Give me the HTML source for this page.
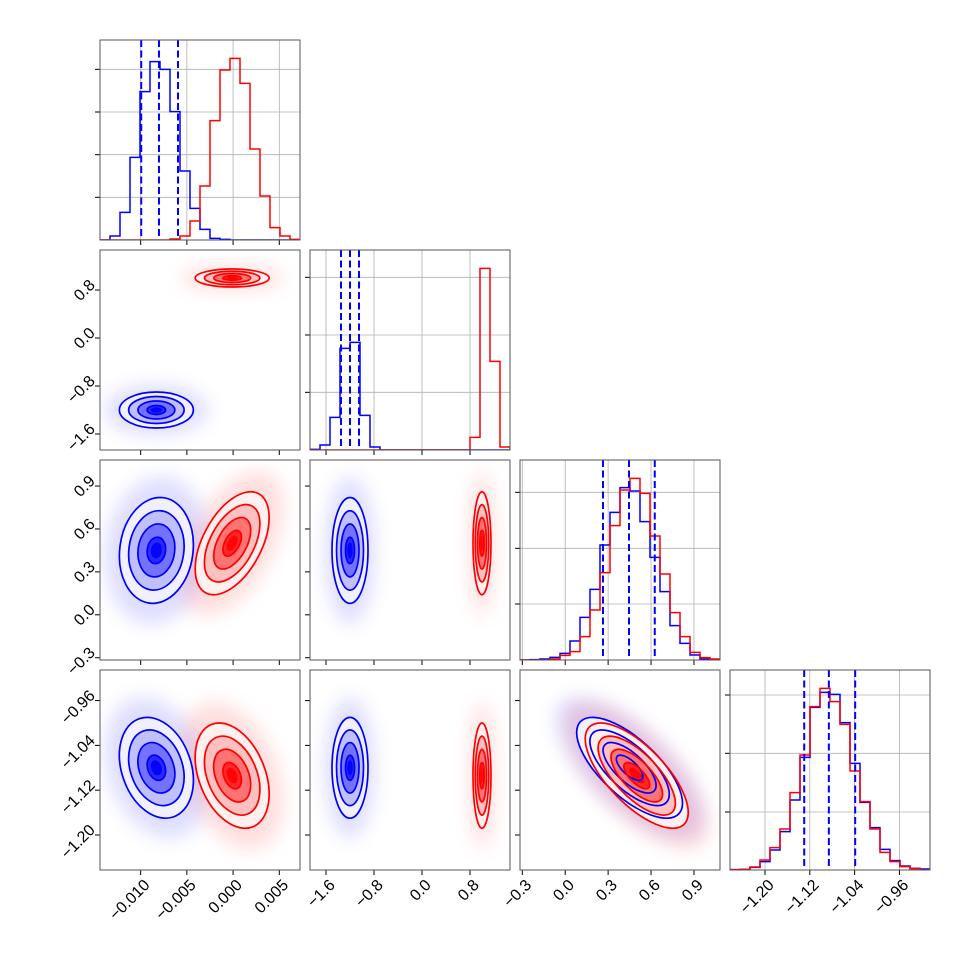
<!DOCTYPE html>
<html><head><meta charset="utf-8"><style>
html,body{margin:0;padding:0;background:#fff}
svg{display:block}
text{font-family:"Liberation Sans",sans-serif;font-size:16px;fill:#000}
</style></head><body>
<svg id="fig" width="970" height="970" viewBox="0 0 970 970" xmlns="http://www.w3.org/2000/svg">
<defs><filter id="haze" x="-50%" y="-50%" width="200%" height="200%"><feGaussianBlur stdDeviation="9"/></filter></defs>
</svg>
<script>
// ---- data ----
const paramLo = [-0.0144, -1.867, -0.316, -1.2625];
const paramHi = [0.00724, 1.467, 1.082, -0.9054];
const ticks0 = [-0.01, -0.005, 0, 0.005];
const ticks1 = [-1.6, -0.8, 0, 0.8];
const ticks2 = [-0.3, 0, 0.3, 0.6, 0.9];
const ticks3 = [-1.2, -1.12, -1.04, -0.96];
const tickLabels0 = ["\u22120.010", "\u22120.005", "0.000", "0.005"];
const tickLabels1 = ["\u22121.6", "\u22120.8", "0.0", "0.8"];
const tickLabels2 = ["\u22120.3", "0.0", "0.3", "0.6", "0.9"];
const tickLabels3 = ["\u22121.20", "\u22121.12", "\u22121.04", "\u22120.96"];
const histMax = 600;
const histTicks0 = [128, 256, 384, 512];
const histTicks1 = [173, 345, 518];
const histTicks2 = [168, 335, 503];
const histTicks3 = [174, 350, 525];
const histBlue0 = [0,12,83,248,445,535,512,385,207,95,32,5,2,0,0,0,0,0,0,0];
const histRed0  = [0,0,0,0,0,0,0,3,12,57,162,358,510,545,470,273,132,37,12,2];
const histBlue1 = [2,15,98,305,323,104,9,0,0,0,0,0,0,0,0,0,0,0,0,0];
const histRed1  = [0,0,0,0,0,0,0,0,0,0,0,0,0,0,0,0,38,545,266,9];
const histBlue2 = [0,1,3,8,20,57,128,212,345,443,517,507,415,308,205,103,50,15,3,0];
const histRed2  = [0,0,0,3,14,25,70,150,262,403,510,545,500,372,258,142,70,23,7,3];
const histBlue3 = [1,2,8,25,60,115,210,338,488,533,527,442,320,203,127,62,28,12,5,3];
const histRed3  = [1,2,9,30,67,123,232,345,490,545,505,437,297,205,123,53,25,10,4,0];
const quantBlue0 = [-0.00994, -0.00802, -0.00596];
const quantBlue1 = [-1.35, -1.2, -1.05];
const quantBlue2 = [0.264, 0.446, 0.626];
const quantBlue3 = [-1.130, -1.086, -1.039];
const meanBlue = [-0.0083, -1.2, 0.45, -1.08];
const meanRed  = [-0.0001, 1.0, 0.5, -1.094];
const sigmaBlue = [0.002, 0.15, 0.185, 0.045];
const sigmaRed  = [0.002, 0.075, 0.18, 0.047];
const pairs = [[0,1],[0,2],[1,2],[0,3],[1,3],[2,3]];
const corrBlue = [0.0, 0.1, 0.0, -0.25, 0.0, -0.7];
const corrRed  = [0.0, 0.5, 0.0, -0.35, 0.0, -0.7];

// ---- layout ----
const svg = document.getElementById('fig');
const NS = 'http://www.w3.org/2000/svg';
const S = 200;
const ticksAll = [ticks0, ticks1, ticks2, ticks3];
const labelsAll = [tickLabels0, tickLabels1, tickLabels2, tickLabels3];
const histTicksAll = [histTicks0, histTicks1, histTicks2, histTicks3];
const histBlueAll = [histBlue0, histBlue1, histBlue2, histBlue3];
const histRedAll = [histRed0, histRed1, histRed2, histRed3];
const quantAll = [quantBlue0, quantBlue1, quantBlue2, quantBlue3];
function px(c){return 100 + 210*c;}
function py(r){return 40 + 210*r;}
function xs(p, c, v){return px(c) + (v - paramLo[p])/(paramHi[p]-paramLo[p])*S;}
function ys(p, r, v){return py(r) + S - (v - paramLo[p])/(paramHi[p]-paramLo[p])*S;}
function hy(r, v){return py(r) + S - v/histMax*S;}
function mk(tag, attrs, parent){
  const e = document.createElementNS(NS, tag);
  for (const k in attrs) e.setAttribute(k, attrs[k]);
  (parent||svg).appendChild(e); return e;
}

function frame(r, c, g){
  const f = mk('rect', {x:px(c), y:py(r), width:S, height:S, fill:'none', stroke:'#555', 'stroke-width':1}, g);
  
  
}
function clip(r, c){
  const cp = mk('clipPath', {id:'clip'+r+c});
  mk('rect', {x:px(c), y:py(r), width:S, height:S}, cp);
  return 'url(#clip'+r+c+')';
}
function xTicks(r, c, p, g, withLabels){
  ticksAll[p].forEach((t, i) => {
    const x = xs(p, c, t);
    mk('line', {x1:x, x2:x, y1:py(r)+S, y2:py(r)+S+5, stroke:'#000', 'stroke-width':1}, g);
    if (withLabels){
      const tx = mk('text', {transform:'translate('+(x+6)+','+(py(r)+S+12)+') rotate(-45)', 'text-anchor':'end', dy:'0.35em'}, g);
      tx.textContent = labelsAll[p][i];
      
      
    }
  });
}
function yTicks(r, c, p, g, withLabels){
  ticksAll[p].forEach((t, i) => {
    const y = ys(p, r, t);
    mk('line', {x1:px(c)-5, x2:px(c), y1:y, y2:y, stroke:'#000', 'stroke-width':1}, g);
    if (withLabels){
      const tx = mk('text', {transform:'translate('+(px(c)-8)+','+(y-8)+') rotate(-45)', 'text-anchor':'end', dy:'0.35em'}, g);
      tx.textContent = labelsAll[p][i];
      
      
    }
  });
}
function histPath(r, c, bins){
  const n = bins.length, w = S/n;
  let d = 'M'+px(c)+','+(py(r)+S);
  bins.forEach((b, i) => {
    const y = hy(r, b);
    d += ' L'+(px(c)+i*w)+','+y+' L'+(px(c)+(i+1)*w)+','+y;
  });
  d += ' L'+(px(c)+S)+','+(py(r)+S);
  return d;
}

// diagonal panels
for (let p = 0; p < 4; p++){
  const g = mk('g', {});
  
  
  const cl = clip(p, p);
  const grid = mk('g', {stroke:'#b0b0b0', 'stroke-width':0.8, 'clip-path':cl}, g);
  ticksAll[p].forEach(t => { const x = xs(p,p,t); mk('line', {x1:x, x2:x, y1:py(p), y2:py(p)+S}, grid); });
  histTicksAll[p].forEach(t => { const y = hy(p,t); mk('line', {x1:px(p), x2:px(p)+S, y1:y, y2:y}, grid); });
  const hb = mk('path', {d:histPath(p,p,histBlueAll[p]), fill:'none', stroke:'#0000ff', 'stroke-width':1.5, 'clip-path':cl}, g);
  
  
  const hr = mk('path', {d:histPath(p,p,histRedAll[p]), fill:'none', stroke:'#ff0000', 'stroke-width':1.5, 'clip-path':cl}, g);
  
  
  quantAll[p].forEach(q => {
    const x = xs(p,p,q);
    const ql = mk('line', {x1:x, x2:x, y1:py(p), y2:py(p)+S, stroke:'#0000ff', 'stroke-width':2, 'stroke-dasharray':'7,3.5'}, g);
    
    
  });
  histTicksAll[p].forEach(t => { const y = hy(p,t); mk('line', {x1:px(p)-5, x2:px(p), y1:y, y2:y, stroke:'#000'}, g); });
  xTicks(p, p, p, g, p === 3);
  frame(p, p, g);
}

// 2D panels
const fillAlpha = [0.06, 0.2, 0.4, 0.65];
const levelK = [2, 1.5, 1, 0.5];
function ellipse(px_, qy, r, c, mean, sig, rho){
  const cx = xs(px_, c, mean[px_]), cy = ys(qy, r, mean[qy]);
  const sx = sig[px_]*S/(paramHi[px_]-paramLo[px_]);
  const sy = sig[qy]*S/(paramHi[qy]-paramLo[qy]);
  const a = sx*sx, d = sy*sy, b = -rho*sx*sy;
  const m = (a+d)/2, s = Math.sqrt(((a-d)/2)**2 + b*b);
  const ang = 0.5*Math.atan2(2*b, a-d)*180/Math.PI;
  return {cx, cy, r1:Math.sqrt(m+s), r2:Math.sqrt(Math.max(m-s, 0.1)), ang};
}
for (let r = 1; r < 4; r++){
  for (let c = 0; c < r; c++){
    const g = mk('g', {});
    
    
    const cl = clip(r, c);
    const inner = mk('g', {'clip-path':cl}, g);
    const pi = pairs.findIndex(pp => pp[0] === c && pp[1] === r);
    const sets = [['#0000ff', '0,0,255', meanBlue, sigmaBlue, corrBlue[pi], 'blue'], ['#ff0000', '255,0,0', meanRed, sigmaRed, corrRed[pi], 'red']];
    const E = sets.map(st => ellipse(c, r, r, c, st[2], st[3], st[4]));
    sets.forEach((st, i) => {
      const e = E[i];
      const h = mk('ellipse', {cx:e.cx, cy:e.cy, rx:e.r1*2.8, ry:e.r2*2.8, transform:'rotate('+e.ang+' '+e.cx+' '+e.cy+')', fill:'rgba('+st[1]+',0.13)', filter:'url(#haze)'}, inner);
      
      
    });
    sets.forEach((st, i) => {
      const e = E[i];
      levelK.forEach((k, j) => {
        if (j === 0) mk('ellipse', {cx:e.cx, cy:e.cy, rx:e.r1*k, ry:e.r2*k, transform:'rotate('+e.ang+' '+e.cx+' '+e.cy+')', fill:'#fff'}, inner);
        const el2 = mk('ellipse', {cx:e.cx, cy:e.cy, rx:e.r1*k, ry:e.r2*k, transform:'rotate('+e.ang+' '+e.cx+' '+e.cy+')', fill:'rgba('+st[1]+','+fillAlpha[j]+')'}, inner);
        
        
      });
      mk('ellipse', {cx:e.cx, cy:e.cy, rx:e.r1*0.3, ry:e.r2*0.3, transform:'rotate('+e.ang+' '+e.cx+' '+e.cy+')', fill:'rgba('+st[1]+',0.9)'}, inner);
    });
    sets.forEach((st, i) => {
      const e = E[i];
      levelK.forEach(k => {
        const cl2 = mk('ellipse', {cx:e.cx, cy:e.cy, rx:e.r1*k, ry:e.r2*k, transform:'rotate('+e.ang+' '+e.cx+' '+e.cy+')', fill:'none', stroke:st[0], 'stroke-width':1.7}, inner);
        
        
      });
    });
    xTicks(r, c, c, g, r === 3);
    yTicks(r, c, r, g, c === 0);
    frame(r, c, g);
  }
}
</script>
</body></html>
